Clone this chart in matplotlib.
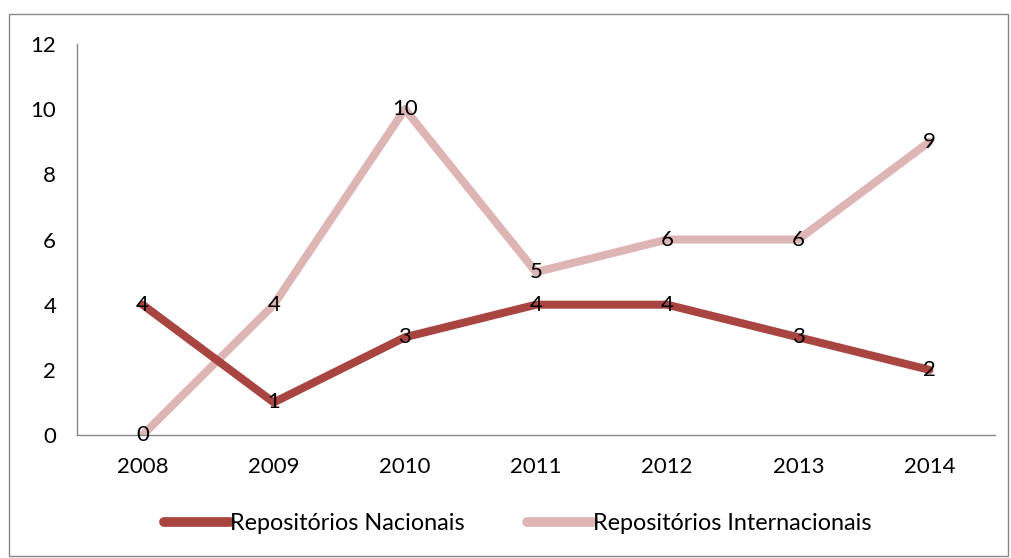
import matplotlib
matplotlib.use("Agg")
import matplotlib.pyplot as plt
from matplotlib.patches import Rectangle

years = ["2008", "2009", "2010", "2011", "2012", "2013", "2014"]
nacionais = [4, 1, 3, 4, 4, 3, 2]
internacionais = [0, 4, 10, 5, 6, 6, 9]

plt.rcParams["font.family"] = ["Lato", "DejaVu Sans"]

fig = plt.figure(figsize=(10.11, 5.58), dpi=100)
ax = fig.add_axes([0.0762, 0.2204, 0.908, 0.7007])

x = range(len(years))
ax.plot(x, nacionais, color="#A94541", lw=5.8, solid_capstyle="round",
        solid_joinstyle="round", label="Repositórios Nacionais", zorder=3)
ax.plot(x, internacionais, color="#DDB5B4", lw=5.8, solid_capstyle="round",
        solid_joinstyle="round", label="Repositórios Internacionais", zorder=2)

# data labels sit on the points
for xi, v in zip(x, nacionais):
    ax.text(xi, v, str(v), ha="center", va="center", fontsize=16, zorder=5)
for xi, v in zip(x, internacionais):
    ax.text(xi, v, str(v), ha="center", va="center", fontsize=16, zorder=5)

ax.set_xlim(-0.5, len(years) - 0.5)
ax.set_ylim(0, 12)
ax.set_yticks(range(0, 13, 2))
ax.set_xticks(list(x))
ax.set_xticklabels(years)
ax.tick_params(length=0, labelsize=16, colors="black")
ax.tick_params(axis="y", pad=15)
ax.tick_params(axis="x", pad=16)
for s in ["top", "right"]:
    ax.spines[s].set_visible(False)
for s in ["left", "bottom"]:
    ax.spines[s].set_color("#888888")
    ax.spines[s].set_linewidth(1)

leg = fig.legend(loc="center", bbox_to_anchor=(0.512, 0.062), ncol=2, frameon=False,
                 fontsize=16.8, handlelength=2.8, handletextpad=0.0, columnspacing=2.7)
for h in leg.legend_handles:
    h.set_linewidth(7)

# outer chart border
fig.patches.append(Rectangle((0.009, 0.003), 0.988, 0.972, transform=fig.transFigure,
                             fill=False, edgecolor="#888888", lw=1))

fig.savefig("out.png", dpi=100)
